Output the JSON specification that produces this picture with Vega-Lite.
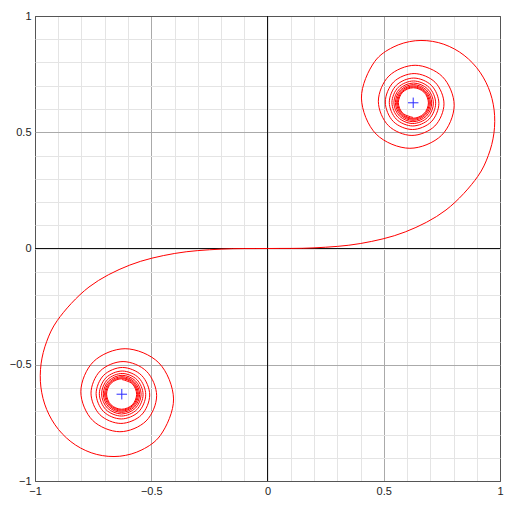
{
  "$schema": "https://vega.github.io/schema/vega-lite/v6.json",
  "width": 465,
  "height": 465,
  "autosize": "none",
  "padding": {"left": 35, "top": 16, "right": 12, "bottom": 31},
  "background": "white",
  "config": {
    "view": {"stroke": "#555555", "strokeWidth": 1},
    "axis": {"labelFont": "Liberation Sans", "labelFontSize": 11, "labelColor": "#222222"}
  },
  "datasets": {
    "one": [{"v": 0}],
    "spiral": [
      {"t": -7.9267, "x": -0.6262, "y": -0.5636},
      {"t": -7.8770, "x": -0.5814, "y": -0.5821},
      {"t": -7.8269, "x": -0.5628, "y": -0.6272},
      {"t": -7.7766, "x": -0.5816, "y": -0.6725},
      {"t": -7.7260, "x": -0.6272, "y": -0.6914},
      {"t": -7.6750, "x": -0.6731, "y": -0.6723},
      {"t": -7.6236, "x": -0.6922, "y": -0.6261},
      {"t": -7.5719, "x": -0.6729, "y": -0.5796},
      {"t": -7.5199, "x": -0.6261, "y": -0.5602},
      {"t": -7.4675, "x": -0.5789, "y": -0.5797},
      {"t": -7.4147, "x": -0.5592, "y": -0.6273},
      {"t": -7.3616, "x": -0.5791, "y": -0.6751},
      {"t": -7.3080, "x": -0.6273, "y": -0.6951},
      {"t": -7.2541, "x": -0.6758, "y": -0.6749},
      {"t": -7.1997, "x": -0.6961, "y": -0.6260},
      {"t": -7.1450, "x": -0.6756, "y": -0.5767},
      {"t": -7.0898, "x": -0.6260, "y": -0.5562},
      {"t": -7.0342, "x": -0.5759, "y": -0.5769},
      {"t": -6.9782, "x": -0.5550, "y": -0.6274},
      {"t": -6.9217, "x": -0.5761, "y": -0.6783},
      {"t": -6.8647, "x": -0.6274, "y": -0.6995},
      {"t": -6.8072, "x": -0.6791, "y": -0.6780},
      {"t": -6.7493, "x": -0.7007, "y": -0.6258},
      {"t": -6.6909, "x": -0.6789, "y": -0.5732},
      {"t": -6.6319, "x": -0.6258, "y": -0.5513},
      {"t": -6.5724, "x": -0.5723, "y": -0.5735},
      {"t": -6.5124, "x": -0.5499, "y": -0.6276},
      {"t": -6.4518, "x": -0.5725, "y": -0.6821},
      {"t": -6.3907, "x": -0.6276, "y": -0.7049},
      {"t": -6.3289, "x": -0.6832, "y": -0.6818},
      {"t": -6.2666, "x": -0.7064, "y": -0.6256},
      {"t": -6.2036, "x": -0.6829, "y": -0.5690},
      {"t": -6.1400, "x": -0.6256, "y": -0.5453},
      {"t": -6.0757, "x": -0.5677, "y": -0.5693},
      {"t": -6.0107, "x": -0.5435, "y": -0.6278},
      {"t": -5.9450, "x": -0.5681, "y": -0.6869},
      {"t": -5.8786, "x": -0.6279, "y": -0.7117},
      {"t": -5.8114, "x": -0.6884, "y": -0.6866},
      {"t": -5.7434, "x": -0.7137, "y": -0.6253},
      {"t": -5.6746, "x": -0.6880, "y": -0.5634},
      {"t": -5.6050, "x": -0.6252, "y": -0.5375},
      {"t": -5.5345, "x": -0.5618, "y": -0.5639},
      {"t": -5.4631, "x": -0.5352, "y": -0.6282},
      {"t": -5.3907, "x": -0.5623, "y": -0.6933},
      {"t": -5.3174, "x": -0.6283, "y": -0.7206},
      {"t": -5.2430, "x": -0.6952, "y": -0.6928},
      {"t": -5.1675, "x": -0.7233, "y": -0.6249},
      {"t": -5.0910, "x": -0.6947, "y": -0.5560},
      {"t": -5.0133, "x": -0.6247, "y": -0.5270},
      {"t": -4.9343, "x": -0.5536, "y": -0.5566},
      {"t": -4.8541, "x": -0.5238, "y": -0.6288},
      {"t": -4.7725, "x": -0.5543, "y": -0.7022},
      {"t": -4.6895, "x": -0.6291, "y": -0.7331},
      {"t": -4.6050, "x": -0.7051, "y": -0.7015},
      {"t": -4.5189, "x": -0.7371, "y": -0.6240},
      {"t": -4.4311, "x": -0.7043, "y": -0.5450},
      {"t": -4.3416, "x": -0.6236, "y": -0.5117},
      {"t": -4.2502, "x": -0.5414, "y": -0.5459},
      {"t": -4.1568, "x": -0.5067, "y": -0.6301},
      {"t": -4.0612, "x": -0.5424, "y": -0.7161},
      {"t": -3.9633, "x": -0.6306, "y": -0.7524},
      {"t": -3.8630, "x": -0.7209, "y": -0.7149},
      {"t": -3.7599, "x": -0.7591, "y": -0.6220},
      {"t": -3.6540, "x": -0.7195, "y": -0.5268},
      {"t": -3.5449, "x": -0.6212, "y": -0.4863},
      {"t": -3.4323, "x": -0.5200, "y": -0.5285},
      {"t": -3.3160, "x": -0.4768, "y": -0.6333},
      {"t": -3.1953, "x": -0.5220, "y": -0.7417},
      {"t": -3.0700, "x": -0.6349, "y": -0.7881},
      {"t": -2.9393, "x": -0.7523, "y": -0.7391},
      {"t": -2.8025, "x": -0.8029, "y": -0.6160},
      {"t": -2.6587, "x": -0.7489, "y": -0.4870},
      {"t": -2.5066, "x": -0.6123, "y": -0.4310},
      {"t": -2.3447, "x": -0.4676, "y": -0.4916},
      {"t": -2.1708, "x": -0.4041, "y": -0.6470},
      {"t": -2.0, "x": -0.4615, "y": -0.8048},
      {"t": -1.9, "x": -0.5399, "y": -0.8658},
      {"t": -1.8, "x": -0.6354, "y": -0.8935},
      {"t": -1.7, "x": -0.7346, "y": -0.8857},
      {"t": -1.6, "x": -0.8255, "y": -0.8453},
      {"t": -1.5, "x": -0.8992, "y": -0.7782},
      {"t": -1.4, "x": -0.9498, "y": -0.6924},
      {"t": -1.3, "x": -0.9747, "y": -0.5959},
      {"t": -1.2, "x": -0.9739, "y": -0.4961},
      {"t": -1.1, "x": -0.9495, "y": -0.3994},
      {"t": -1.0, "x": -0.9045, "y": -0.3103},
      {"t": -0.8, "x": -0.7678, "y": -0.1657},
      {"t": -0.6, "x": -0.5923, "y": -0.0713},
      {"t": -0.4, "x": -0.3990, "y": -0.0213},
      {"t": -0.2, "x": -0.2000, "y": -0.0027},
      {"t": 0.0, "x": 0.0, "y": 0.0},
      {"t": 0.2, "x": 0.2000, "y": 0.0027},
      {"t": 0.4, "x": 0.3990, "y": 0.0213},
      {"t": 0.6, "x": 0.5923, "y": 0.0713},
      {"t": 0.8, "x": 0.7678, "y": 0.1657},
      {"t": 1.0, "x": 0.9045, "y": 0.3103},
      {"t": 1.1, "x": 0.9495, "y": 0.3994},
      {"t": 1.2, "x": 0.9739, "y": 0.4961},
      {"t": 1.3, "x": 0.9747, "y": 0.5959},
      {"t": 1.4, "x": 0.9498, "y": 0.6924},
      {"t": 1.5, "x": 0.8992, "y": 0.7782},
      {"t": 1.6, "x": 0.8255, "y": 0.8453},
      {"t": 1.7, "x": 0.7346, "y": 0.8857},
      {"t": 1.8, "x": 0.6354, "y": 0.8935},
      {"t": 1.9, "x": 0.5399, "y": 0.8658},
      {"t": 2.0, "x": 0.4615, "y": 0.8048},
      {"t": 2.1708, "x": 0.4041, "y": 0.6470},
      {"t": 2.3447, "x": 0.4676, "y": 0.4916},
      {"t": 2.5066, "x": 0.6123, "y": 0.4310},
      {"t": 2.6587, "x": 0.7489, "y": 0.4870},
      {"t": 2.8025, "x": 0.8029, "y": 0.6160},
      {"t": 2.9393, "x": 0.7523, "y": 0.7391},
      {"t": 3.0700, "x": 0.6349, "y": 0.7881},
      {"t": 3.1953, "x": 0.5220, "y": 0.7417},
      {"t": 3.3160, "x": 0.4768, "y": 0.6333},
      {"t": 3.4323, "x": 0.5200, "y": 0.5285},
      {"t": 3.5449, "x": 0.6212, "y": 0.4863},
      {"t": 3.6540, "x": 0.7195, "y": 0.5268},
      {"t": 3.7599, "x": 0.7591, "y": 0.6220},
      {"t": 3.8630, "x": 0.7209, "y": 0.7149},
      {"t": 3.9633, "x": 0.6306, "y": 0.7524},
      {"t": 4.0612, "x": 0.5424, "y": 0.7161},
      {"t": 4.1568, "x": 0.5067, "y": 0.6301},
      {"t": 4.2502, "x": 0.5414, "y": 0.5459},
      {"t": 4.3416, "x": 0.6236, "y": 0.5117},
      {"t": 4.4311, "x": 0.7043, "y": 0.5450},
      {"t": 4.5189, "x": 0.7371, "y": 0.6240},
      {"t": 4.6050, "x": 0.7051, "y": 0.7015},
      {"t": 4.6895, "x": 0.6291, "y": 0.7331},
      {"t": 4.7725, "x": 0.5543, "y": 0.7022},
      {"t": 4.8541, "x": 0.5238, "y": 0.6288},
      {"t": 4.9343, "x": 0.5536, "y": 0.5566},
      {"t": 5.0133, "x": 0.6247, "y": 0.5270},
      {"t": 5.0910, "x": 0.6947, "y": 0.5560},
      {"t": 5.1675, "x": 0.7233, "y": 0.6249},
      {"t": 5.2430, "x": 0.6952, "y": 0.6928},
      {"t": 5.3174, "x": 0.6283, "y": 0.7206},
      {"t": 5.3907, "x": 0.5623, "y": 0.6933},
      {"t": 5.4631, "x": 0.5352, "y": 0.6282},
      {"t": 5.5345, "x": 0.5618, "y": 0.5639},
      {"t": 5.6050, "x": 0.6252, "y": 0.5375},
      {"t": 5.6746, "x": 0.6880, "y": 0.5634},
      {"t": 5.7434, "x": 0.7137, "y": 0.6253},
      {"t": 5.8114, "x": 0.6884, "y": 0.6866},
      {"t": 5.8786, "x": 0.6279, "y": 0.7117},
      {"t": 5.9450, "x": 0.5681, "y": 0.6869},
      {"t": 6.0107, "x": 0.5435, "y": 0.6278},
      {"t": 6.0757, "x": 0.5677, "y": 0.5693},
      {"t": 6.1400, "x": 0.6256, "y": 0.5453},
      {"t": 6.2036, "x": 0.6829, "y": 0.5690},
      {"t": 6.2666, "x": 0.7064, "y": 0.6256},
      {"t": 6.3289, "x": 0.6832, "y": 0.6818},
      {"t": 6.3907, "x": 0.6276, "y": 0.7049},
      {"t": 6.4518, "x": 0.5725, "y": 0.6821},
      {"t": 6.5124, "x": 0.5499, "y": 0.6276},
      {"t": 6.5724, "x": 0.5723, "y": 0.5735},
      {"t": 6.6319, "x": 0.6258, "y": 0.5513},
      {"t": 6.6909, "x": 0.6789, "y": 0.5732},
      {"t": 6.7493, "x": 0.7007, "y": 0.6258},
      {"t": 6.8072, "x": 0.6791, "y": 0.6780},
      {"t": 6.8647, "x": 0.6274, "y": 0.6995},
      {"t": 6.9217, "x": 0.5761, "y": 0.6783},
      {"t": 6.9782, "x": 0.5550, "y": 0.6274},
      {"t": 7.0342, "x": 0.5759, "y": 0.5769},
      {"t": 7.0898, "x": 0.6260, "y": 0.5562},
      {"t": 7.1450, "x": 0.6756, "y": 0.5767},
      {"t": 7.1997, "x": 0.6961, "y": 0.6260},
      {"t": 7.2541, "x": 0.6758, "y": 0.6749},
      {"t": 7.3080, "x": 0.6273, "y": 0.6951},
      {"t": 7.3616, "x": 0.5791, "y": 0.6751},
      {"t": 7.4147, "x": 0.5592, "y": 0.6273},
      {"t": 7.4675, "x": 0.5789, "y": 0.5797},
      {"t": 7.5199, "x": 0.6261, "y": 0.5602},
      {"t": 7.5719, "x": 0.6729, "y": 0.5796},
      {"t": 7.6236, "x": 0.6922, "y": 0.6261},
      {"t": 7.6750, "x": 0.6731, "y": 0.6723},
      {"t": 7.7260, "x": 0.6272, "y": 0.6914},
      {"t": 7.7766, "x": 0.5816, "y": 0.6725},
      {"t": 7.8269, "x": 0.5628, "y": 0.6272},
      {"t": 7.8770, "x": 0.5814, "y": 0.5821},
      {"t": 7.9267, "x": 0.6262, "y": 0.5636}
    ],
    "centers": [
      {"x": 0.6267, "y": 0.6267},
      {"x": -0.6267, "y": -0.6267}
    ]
  },
  "layer": [
    {
      "data": {"name": "one"},
      "mark": {"type": "rule", "color": "#111111", "strokeWidth": 1},
      "encoding": {
        "x": {"field": "v", "type": "quantitative", "scale": {"domain": [-1, 1], "nice": false, "zero": false},
          "axis": {"title": null, "values": [-1, -0.9, -0.8, -0.7, -0.6, -0.5, -0.4, -0.3, -0.2, -0.1, 0, 0.1, 0.2, 0.3, 0.4, 0.5, 0.6, 0.7, 0.8, 0.9, 1], "grid": true, "ticks": false, "domain": false, "labelPadding": 4, "labelFlush": false, "labelOverlap": false, "labelExpr": "(datum.value == 0 || abs(datum.value) == 0.5 || abs(datum.value) == 1) ? replace(format(datum.value, '~g'), '-', '\u2212') : ''", "gridColor": {"condition": [{"test": "abs(datum.value) == 1", "value": "#555555"}, {"test": "abs(datum.value) == 0.5", "value": "#aaaaaa"}], "value": "#e4e4e4"}}}
      }
    },
    {
      "data": {"name": "one"},
      "mark": {"type": "rule", "color": "#111111", "strokeWidth": 1},
      "encoding": {
        "y": {"field": "v", "type": "quantitative", "scale": {"domain": [-1, 1], "nice": false, "zero": false},
          "axis": {"title": null, "values": [-1, -0.9, -0.8, -0.7, -0.6, -0.5, -0.4, -0.3, -0.2, -0.1, 0, 0.1, 0.2, 0.3, 0.4, 0.5, 0.6, 0.7, 0.8, 0.9, 1], "grid": true, "ticks": false, "domain": false, "labelPadding": 4, "labelFlush": false, "labelOverlap": false, "labelBaseline": "middle", "labelExpr": "(datum.value == 0 || abs(datum.value) == 0.5 || abs(datum.value) == 1) ? replace(format(datum.value, '~g'), '-', '\u2212') : ''", "gridColor": {"condition": [{"test": "abs(datum.value) == 1", "value": "#555555"}, {"test": "abs(datum.value) == 0.5", "value": "#aaaaaa"}], "value": "#e4e4e4"}}}
      }
    },
    {
      "data": {"name": "spiral"},
      "mark": {"type": "line", "color": "#ff0000", "strokeWidth": 1, "interpolate": "catmull-rom"},
      "encoding": {
        "x": {"field": "x", "type": "quantitative", "scale": {"domain": [-1, 1], "nice": false, "zero": false},
          "axis": {"title": null, "values": [-1, -0.9, -0.8, -0.7, -0.6, -0.5, -0.4, -0.3, -0.2, -0.1, 0, 0.1, 0.2, 0.3, 0.4, 0.5, 0.6, 0.7, 0.8, 0.9, 1], "grid": true, "ticks": false, "domain": false, "labelPadding": 4, "labelFlush": false, "labelOverlap": false, "labelExpr": "(datum.value == 0 || abs(datum.value) == 0.5 || abs(datum.value) == 1) ? replace(format(datum.value, '~g'), '-', '\u2212') : ''", "gridColor": {"condition": [{"test": "abs(datum.value) == 1", "value": "#555555"}, {"test": "abs(datum.value) == 0.5", "value": "#aaaaaa"}], "value": "#e4e4e4"}}},
        "y": {"field": "y", "type": "quantitative", "scale": {"domain": [-1, 1], "nice": false, "zero": false},
          "axis": {"title": null, "values": [-1, -0.9, -0.8, -0.7, -0.6, -0.5, -0.4, -0.3, -0.2, -0.1, 0, 0.1, 0.2, 0.3, 0.4, 0.5, 0.6, 0.7, 0.8, 0.9, 1], "grid": true, "ticks": false, "domain": false, "labelPadding": 4, "labelFlush": false, "labelOverlap": false, "labelBaseline": "middle", "labelExpr": "(datum.value == 0 || abs(datum.value) == 0.5 || abs(datum.value) == 1) ? replace(format(datum.value, '~g'), '-', '\u2212') : ''", "gridColor": {"condition": [{"test": "abs(datum.value) == 1", "value": "#555555"}, {"test": "abs(datum.value) == 0.5", "value": "#aaaaaa"}], "value": "#e4e4e4"}}},
        "order": {"field": "t", "type": "quantitative"}
      }
    },
    {
      "data": {"name": "centers"},
      "mark": {"type": "point", "shape": "M-1,0H1M0,-1V1", "filled": false, "color": "#2a2aff", "strokeWidth": 1, "size": 110, "opacity": 1},
      "encoding": {
        "x": {"field": "x", "type": "quantitative", "scale": {"domain": [-1, 1], "nice": false, "zero": false},
          "axis": {"title": null, "values": [-1, -0.9, -0.8, -0.7, -0.6, -0.5, -0.4, -0.3, -0.2, -0.1, 0, 0.1, 0.2, 0.3, 0.4, 0.5, 0.6, 0.7, 0.8, 0.9, 1], "grid": true, "ticks": false, "domain": false, "labelPadding": 4, "labelFlush": false, "labelOverlap": false, "labelExpr": "(datum.value == 0 || abs(datum.value) == 0.5 || abs(datum.value) == 1) ? replace(format(datum.value, '~g'), '-', '\u2212') : ''", "gridColor": {"condition": [{"test": "abs(datum.value) == 1", "value": "#555555"}, {"test": "abs(datum.value) == 0.5", "value": "#aaaaaa"}], "value": "#e4e4e4"}}},
        "y": {"field": "y", "type": "quantitative", "scale": {"domain": [-1, 1], "nice": false, "zero": false},
          "axis": {"title": null, "values": [-1, -0.9, -0.8, -0.7, -0.6, -0.5, -0.4, -0.3, -0.2, -0.1, 0, 0.1, 0.2, 0.3, 0.4, 0.5, 0.6, 0.7, 0.8, 0.9, 1], "grid": true, "ticks": false, "domain": false, "labelPadding": 4, "labelFlush": false, "labelOverlap": false, "labelBaseline": "middle", "labelExpr": "(datum.value == 0 || abs(datum.value) == 0.5 || abs(datum.value) == 1) ? replace(format(datum.value, '~g'), '-', '\u2212') : ''", "gridColor": {"condition": [{"test": "abs(datum.value) == 1", "value": "#555555"}, {"test": "abs(datum.value) == 0.5", "value": "#aaaaaa"}], "value": "#e4e4e4"}}}
      }
    }
  ]
}
